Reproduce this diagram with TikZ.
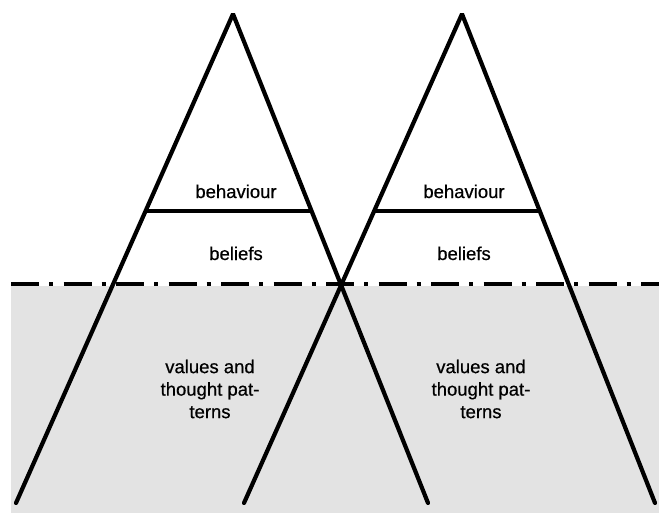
\documentclass[tikz,border=0pt]{standalone}
\usepackage{fontspec}
\setmainfont{Liberation Sans}
\newfontfamily\layerfont[FakeBold=0.6]{Liberation Sans}
\usetikzlibrary{calc}
\tikzset{
	leg/.style={
		line width=4.2pt,
		line cap=round,
		line join=bevel,
	},
	divider/.style={
		line width=4.2pt,
	},
	waterline/.style={
		line width=4.2pt,
		dash pattern=on 28pt off 10pt on 4pt off 10.5pt,
	},
	underwater/.style={
		fill=black!11,
	},
	layer/.style={
		font=\layerfont\fontsize{18.5}{22.5}\selectfont,
		text=black,
		inner sep=0pt,
		align=center,
	},
}

\begin{document}
\begin{tikzpicture}[x=1pt,y=-1pt]
	\useasboundingbox (0,0) rectangle (659,516);

	\coordinate (seaNW) at (11,286);
	\coordinate (seaSE) at (659,513);
	\fill[underwater] (seaNW) rectangle (seaSE);

	\coordinate (waterW) at (11,284);
	\coordinate (waterE) at (659,284);
	\draw[waterline] (waterW) -- (waterE);

	% left iceberg
	\coordinate (apexA) at (233,14);
	\coordinate (footAW) at (16,503);
	\coordinate (footAE) at (428,503);
	\draw[leg] (footAW) -- (apexA) -- (footAE);
	\draw[divider] ($(apexA)!0.403!(footAW)$) -- ($(apexA)!0.403!(footAE)$);

	\node[layer, anchor=base] (behavA) at (236,198) {behaviour};
	\node[layer, anchor=base] (beliefA) at (236,260) {beliefs};
	\node[layer] (valueA) at (210,389) {values and\\thought pat-\\terns};

	% right iceberg
	\coordinate (apexB) at (462,14);
	\coordinate (footBW) at (244,503);
	\coordinate (footBE) at (655,503);
	\draw[leg] (footBW) -- (apexB) -- (footBE);
	\draw[divider] ($(apexB)!0.403!(footBW)$) -- ($(apexB)!0.403!(footBE)$);

	\node[layer, anchor=base] (behavB) at (464,198) {behaviour};
	\node[layer, anchor=base] (beliefB) at (464,260) {beliefs};
	\node[layer] (valueB) at (481,389) {values and\\thought pat-\\terns};

\end{tikzpicture}
\end{document}
